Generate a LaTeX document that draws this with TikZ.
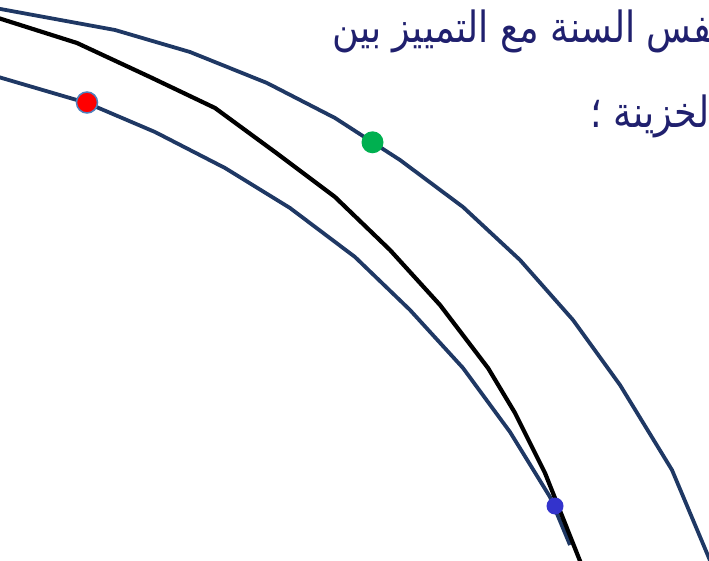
\documentclass[tikz,border=0pt]{standalone}
\usepackage{fontspec}
\newfontfamily\arabicfont[Script=Arabic,FakeStretch=0.85]{DejaVu Sans}
\TeXXeTstate=1
\definecolor{curvenavy}{RGB}{31,56,100}
\definecolor{textnavy}{RGB}{32,32,110}
\definecolor{dotgreen}{RGB}{0,176,80}
\definecolor{dotblue}{RGB}{51,51,204}
\definecolor{rimblue}{RGB}{79,129,189}

\begin{document}
\begin{tikzpicture}[x=1pt,y=-1pt,
    curve/.style={draw=curvenavy,line width=3.8pt,line join=round},
    dot/.style={circle,inner sep=0pt},
    arabictext/.style={text=textnavy,inner sep=0pt,
      font=\arabicfont\fontsize{43}{50}\selectfont}]
  \useasboundingbox (0,0) rectangle (709,561);
  \clip (0,0) rectangle (709,561);
  % text, cut at the right edge
  \node[arabictext,anchor=base west] (line1) at (332,43) {\beginR نفس السنة مع التمييز بين\endR};
  \node[arabictext,anchor=base east] (line2) at (720,128) {\beginR الخزينة ؛\endR};
  % the three curves
  \draw[curve] (-5,8)--(115,30)--(190,52)--(267,83)--(335,118)--(400,160)
    --(463,207)--(520,260)--(573,320)--(620,385)--(672,470)--(714,570);
  \draw[curve] (-5,76)--(87,103)--(155,132)--(225,168)--(290,208)--(355,257)
    --(410,310)--(463,368)--(510,432)--(550,497)--(570,545);
  \draw[line width=4.2pt,line join=round] (-5,17)--(77,43)--(150,77)--(215,108)
    --(275,152)--(335,197)--(390,250)--(440,305)--(488,368)--(515,413)
    --(545,473)--(582,566);
  % points on the curves
  \node[dot,fill=red,draw=rimblue,line width=1.5pt,minimum size=21pt] (reddot) at (87,102.5) {};
  \node[dot,fill=dotgreen,minimum size=22pt] (greendot) at (372.5,142.3) {};
  \node[dot,fill=dotblue,minimum size=17pt] (bluedot) at (555,506) {};
\end{tikzpicture}
\end{document}
